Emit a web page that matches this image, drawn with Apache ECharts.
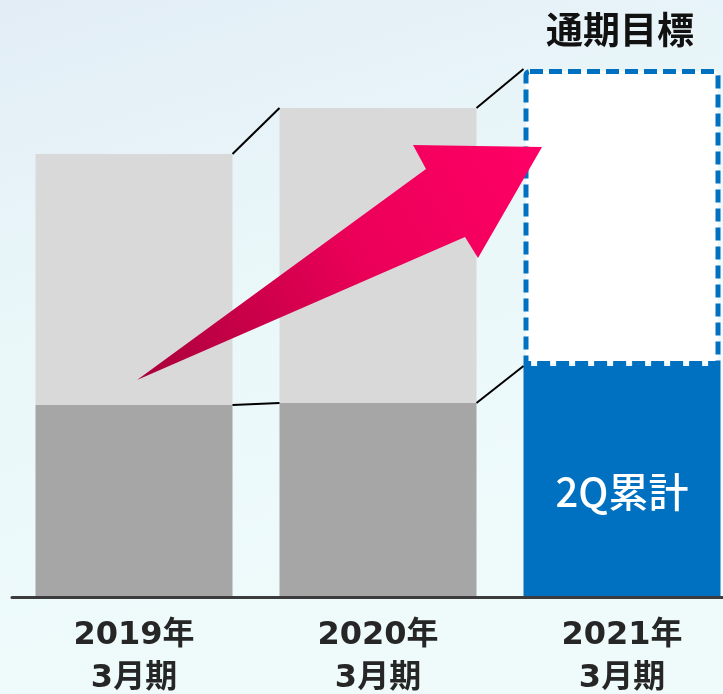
<!DOCTYPE html>
<html>
<head>
<meta charset="utf-8">
<script src="https://cdn.jsdelivr.net/npm/echarts@6/dist/echarts.min.js"></script>
<style>
    html, body { margin: 0; padding: 0; }
    #chart { width: 723px; height: 694px; }
</style>
</head>
<body>
<div id="chart"></div>
<script>
    // 決算期
    const categories = ['2019年\n3月期', '2020年\n3月期', '2021年\n3月期'];
    // 上期(2Q)累計 と 下期(通期との差)
    const firstHalf = [19.2, 19.4, 23.1];
    const secondHalf = [25.1, 29.5, 29.7];
    const totals = firstHalf.map((v, i) => +(v + secondHalf[i]).toFixed(1));

    const BAR_W = 197;
    const GRAY_DARK = '#a6a6a6';
    const GRAY_LIGHT = '#d9d9d9';
    const BLUE = '#0070c0';
    const last = categories.length - 1;

    // 棒同士をつなぐ線 (i → i+1)
    const links = [];
    for (let i = 0; i < last; i++) {
        links.push([i, totals[i], totals[i + 1], firstHalf[i], firstHalf[i + 1]]);
    }

    const myChart = echarts.init(document.getElementById('chart'));
    myChart.setOption({
        animation: false,
        backgroundColor: new echarts.graphic.LinearGradient(0, 0, 0.3, 1, [
            { offset: 0, color: '#e2edf6' },
            { offset: 0.45, color: '#eaf7f9' },
            { offset: 1, color: '#effbfb' }
        ]),
        title: {
            text: '通期目標',
            left: 541,
            top: 6,
            textStyle: {
                fontFamily: 'Noto Sans CJK JP',
                fontSize: 37,
                fontWeight: 'bold',
                color: '#111'
            }
        },
        grid: {
            left: 12,
            width: 732,
            top: 47,
            bottom: 97,
            outerBoundsMode: 'none',
            containLabel: false
        },
        xAxis: {
            type: 'category',
            data: categories,
            axisTick: { show: false },
            axisLine: {
                lineStyle: { color: '#3c3c3c', width: 3 }
            },
            axisLabel: {
                margin: 17,
                fontFamily: 'DejaVu Sans, Noto Sans CJK JP',
                fontSize: 32,
                fontWeight: 'bold',
                lineHeight: 43,
                color: '#262626'
            },
            z: 10
        },
        yAxis: {
            type: 'value',
            min: 0,
            max: 55,
            show: false,
            splitLine: { show: false }
        },
        series: [
            {
                name: '2Q累計',
                type: 'bar',
                stack: 'total',
                barWidth: BAR_W,
                data: firstHalf.map((v, i) => ({
                    value: v,
                    itemStyle: { color: i === last ? BLUE : GRAY_DARK },
                    label: i === last ? {
                        show: true,
                        position: 'inside',
                        offset: [0, 10],
                        formatter: '2Q累計',
                        fontFamily: 'Noto Sans CJK JP',
                        fontSize: 40,
                        fontWeight: 500,
                        color: '#fff'
                    } : { show: false }
                })),
                z: 2
            },
            {
                name: '通期',
                type: 'bar',
                stack: 'total',
                barWidth: BAR_W,
                data: secondHalf.map((v, i) => ({
                    value: v,
                    itemStyle: i === last ? {
                        color: '#ffffff',
                        borderColor: BLUE,
                        borderWidth: 5,
                        borderType: [13, 6],
                        borderRadius: [4, 4, 0, 0]
                    } : { color: GRAY_LIGHT }
                })),
                z: 3
            },
            {
                name: 'links',
                type: 'custom',
                data: links,
                encode: { x: 0, y: [1, 2] },
                renderItem: function (params, api) {
                    const i = api.value(0);
                    const half = BAR_W / 2;
                    const a = api.coord([i, api.value(1)]);
                    const b = api.coord([i + 1, api.value(2)]);
                    const c = api.coord([i, api.value(3)]);
                    const d = api.coord([i + 1, api.value(4)]);
                    const style = { stroke: '#000', lineWidth: 2 };
                    return {
                        type: 'group',
                        children: [
                            { type: 'line', shape: { x1: a[0] + half, y1: a[1], x2: b[0] - half, y2: b[1] }, style: style },
                            { type: 'line', shape: { x1: c[0] + half, y1: c[1], x2: d[0] - half, y2: d[1] }, style: style }
                        ]
                    };
                },
                z: 4
            }
        ],
        graphic: [
            {
                // 成長を示す矢印
                type: 'polygon',
                z: 100,
                shape: {
                    points: [
                        [137, 380],
                        [426, 169],
                        [413, 145],
                        [542, 147],
                        [478, 258],
                        [465, 237]
                    ]
                },
                style: {
                    fill: new echarts.graphic.LinearGradient(0, 1, 1, 0, [
                        { offset: 0, color: '#a8003a' },
                        { offset: 0.55, color: '#eb0058' },
                        { offset: 1, color: '#ff0066' }
                    ])
                }
            }
        ]
    });
</script>
</body>
</html>
